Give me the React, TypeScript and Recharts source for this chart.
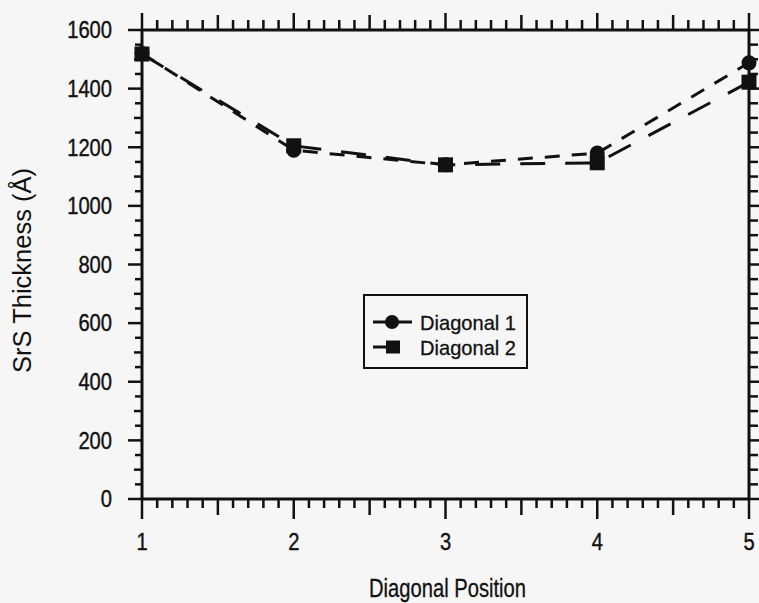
import React from 'react';
import { LineChart, Line, XAxis, YAxis, Legend } from 'recharts';

// Diagonal positions across the wafer and SrS thickness (Å) measured at each
const positions = [1, 2, 3, 4, 5];
const diagonal1 = [1520, 1190, 1140, 1180, 1488];
const diagonal2 = [1518, 1205, 1140, 1147, 1422];

const xMinorTicks = Array.from({ length: 41 }, (_, i) => Math.round(10 + i) / 10);
const yMinorTicks = Array.from({ length: 33 }, (_, i) => i * 50);

const data = positions.map((p, i) => ({ pos: p, d1: diagonal1[i], d2: diagonal2[i] }));

const FONT = '"Liberation Sans", Arial, Helvetica, sans-serif';
const INK = '#111';
const BG = '#f6f6f6';

// digits in the scan are taller than Arial's, so squeeze a larger size to the measured width
const NumText = ({ x, y, anchor, children }: any) => {
    const s = String(children);
    return (
        <text x={x} y={y} dy="0.36em" textAnchor={anchor} fontSize={23} fontFamily={FONT} fill={INK}
            stroke={INK} strokeWidth={0.4} textLength={s.length * 11.2} lengthAdjust="spacingAndGlyphs">
            {s}
        </text>
    );
};

const BottomTick = (props: any) => {
    const { x, y, payload } = props;
    const k = Math.round(payload.value * 10);
    const len = k % 10 === 0 ? 20 : k % 5 === 0 ? 16 : 9;
    return (
        <g>
            <line x1={x} y1={y} x2={x} y2={y + len} stroke={INK} strokeWidth={2.5} />
            {k % 10 === 0 && <NumText x={x} y={y + 43} anchor="middle">{k / 10}</NumText>}
        </g>
    );
};

const TopTick = (props: any) => {
    const { x, y, payload } = props;
    const k = Math.round(payload.value * 10);
    const len = k % 10 === 0 ? 17 : k % 5 === 0 ? 15 : 10;
    return <line x1={x} y1={y} x2={x} y2={y - len} stroke={INK} strokeWidth={2.5} />;
};

const LeftTick = (props: any) => {
    const { x, y, payload } = props;
    const v = payload.value;
    const major = v % 200 === 0;
    return (
        <g>
            <line x1={x} y1={y} x2={x - (major ? 14 : v % 100 === 0 ? 8 : 7)} y2={y} stroke={INK} strokeWidth={2.5} />
            {major && <NumText x={x - 30} y={y} anchor="end">{v}</NumText>}
        </g>
    );
};

const RightTick = (props: any) => {
    const { x, y, payload } = props;
    const major = payload.value % 200 === 0;
    return <line x1={x} y1={y} x2={x + (major ? 14 : 9)} y2={y} stroke={INK} strokeWidth={2.5} />;
};

const XTitle = (props: any) => {
    const { viewBox } = props;
    return (
        <text x={viewBox.x + viewBox.width / 2 + 2} y={viewBox.y + 98} textAnchor="middle" fontSize={25}
            textLength={157} lengthAdjust="spacingAndGlyphs" fontFamily={FONT} fill={INK} stroke={INK} strokeWidth={0.3}>
            Diagonal Position
        </text>
    );
};

const YTitle = (props: any) => {
    const { viewBox } = props;
    const cy = viewBox.y + viewBox.height / 2 + 6;
    return (
        <text x={22} y={cy} transform={`rotate(-90 22 ${cy})`} dy="0.36em" textAnchor="middle" fontSize={26}
            textLength={205} lengthAdjust="spacingAndGlyphs" fontFamily={FONT} fill={INK}>
            SrS Thickness (Å)
        </text>
    );
};

const CircleDot = (props: any) => {
    const { cx, cy, index } = props;
    return <circle key={`c-${index}`} cx={cx} cy={cy} r={7.5} fill={INK} />;
};

const SquareDot = (props: any) => {
    const { cx, cy, index } = props;
    return <rect key={`s-${index}`} x={cx - 7.5} y={cy - 7.5} width={15} height={15} fill={INK} />;
};

const LegendBox = () => (
    <div style={{ width: 161, height: 71, border: `2px solid ${INK}`, background: BG }}>
        <svg width={161} height={71}>
            <line x1={8} x2={47} y1={26} y2={26} stroke={INK} strokeWidth={3} />
            <circle cx={27} cy={26} r={7} fill={INK} />
            <text x={55} y={26} dy="0.36em" fontSize={21} fontFamily={FONT} fill={INK} stroke={INK} strokeWidth={0.3}
                textLength={96} lengthAdjust="spacingAndGlyphs">Diagonal 1</text>
            <line x1={8} x2={24} y1={51} y2={51} stroke={INK} strokeWidth={3} />
            <rect x={21} y={44.5} width={14} height={13} fill={INK} />
            <text x={55} y={51} dy="0.36em" fontSize={21} fontFamily={FONT} fill={INK} stroke={INK} strokeWidth={0.3}
                textLength={96} lengthAdjust="spacingAndGlyphs">Diagonal 2</text>
        </svg>
    </div>
);

const App: React.FC = () => {
    return (
        <div style={{ position: 'fixed', top: 0, left: 0, width: 759, height: 603, background: BG, overflow: 'hidden' }}>
            <LineChart width={759} height={603} data={data} margin={{ top: 29, right: 9, bottom: 0, left: 0 }}>
                <XAxis
                    dataKey="pos"
                    type="number"
                    domain={[1, 5]}
                    ticks={xMinorTicks}
                    interval={0}
                    height={104}
                    tickSize={0}
                    tickMargin={0}
                    tickLine={false}
                    tick={<BottomTick />}
                    axisLine={{ stroke: INK, strokeWidth: 3 }}
                    label={<XTitle />}
                />
                <XAxis
                    xAxisId="top"
                    orientation="top"
                    dataKey="pos"
                    type="number"
                    domain={[1, 5]}
                    allowDataOverflow
                    ticks={xMinorTicks}
                    interval={0}
                    height={1}
                    tickSize={0}
                    tickMargin={0}
                    tickLine={false}
                    tick={<TopTick />}
                    axisLine={{ stroke: INK, strokeWidth: 3 }}
                />
                <YAxis
                    type="number"
                    domain={[0, 1600]}
                    ticks={yMinorTicks}
                    interval={0}
                    width={142}
                    tickSize={0}
                    tickMargin={0}
                    tickLine={false}
                    tick={<LeftTick />}
                    axisLine={{ stroke: INK, strokeWidth: 3 }}
                    label={<YTitle />}
                />
                <YAxis
                    yAxisId="right"
                    orientation="right"
                    type="number"
                    domain={[0, 1600]}
                    allowDataOverflow
                    ticks={yMinorTicks}
                    interval={0}
                    width={1}
                    tickSize={0}
                    tickMargin={0}
                    tickLine={false}
                    tick={<RightTick />}
                    axisLine={{ stroke: INK, strokeWidth: 3 }}
                />
                <Legend
                    layout="vertical"
                    align="center"
                    verticalAlign="middle"
                    content={<LegendBox />}
                    wrapperStyle={{ left: 363, top: 294, width: 165, height: 75 }}
                />
                {/* invisible series so the frame axes on the top and right get drawn */}
                <Line
                    xAxisId="top"
                    yAxisId="right"
                    dataKey="d1"
                    stroke="none"
                    dot={false}
                    activeDot={false}
                    legendType="none"
                    isAnimationActive={false}
                />
                <Line
                    type="linear"
                    dataKey="d1"
                    name="Diagonal 1"
                    stroke={INK}
                    strokeWidth={3}
                    strokeDasharray="15 12"
                    dot={CircleDot}
                    activeDot={false}
                    isAnimationActive={false}
                />
                <Line
                    type="linear"
                    dataKey="d2"
                    name="Diagonal 2"
                    stroke={INK}
                    strokeWidth={3}
                    strokeDasharray="25 20"
                    dot={SquareDot}
                    activeDot={false}
                    isAnimationActive={false}
                />
            </LineChart>
        </div>
    );
};

export default App;
